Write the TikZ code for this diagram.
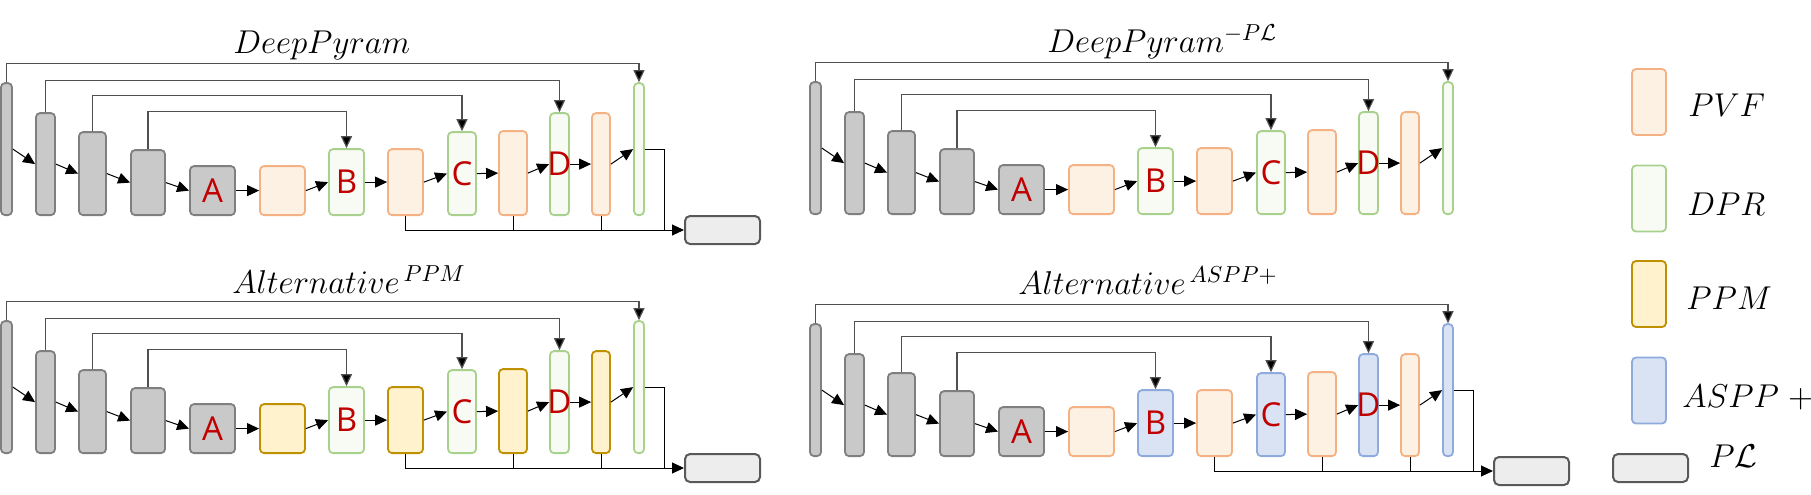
\documentclass[tikz,border=0pt]{standalone}
\usepackage{fix-cm}
\usepackage{fontspec}
\newfontfamily\lettfont{Open Sans}
\usetikzlibrary{arrows.meta}
\definecolor{encfill}{HTML}{C9C9C9}
\definecolor{encline}{HTML}{7F7F7F}
\definecolor{pvffill}{HTML}{FDF1E3}
\definecolor{pvfline}{HTML}{F4B183}
\definecolor{dprfill}{HTML}{F8FBF4}
\definecolor{dprline}{HTML}{A9D18E}
\definecolor{ppmfill}{HTML}{FFF2CC}
\definecolor{ppmline}{HTML}{BF9000}
\definecolor{asppfill}{HTML}{DAE3F3}
\definecolor{asppline}{HTML}{8FAADC}
\definecolor{plfill}{HTML}{EDEDED}
\definecolor{plline}{HTML}{595959}
\definecolor{skipline}{HTML}{505050}
\definecolor{letter}{HTML}{C00000}
% #1 style, #2 name, #3 centre x, #4 width, #5 height
\newcommand{\blk}[5]
{   \node[#1, minimum width=#4*0.5pt, minimum height=#5*0.5pt] (#2) at (#3,216) {};
}
% #1 plain decoder blocks, #2 lettered blocks
\newcommand{\unet}[2]
{   \blk{enc}{e1}{6.5}{11}{132}
    \blk{enc}{e2}{45.5}{19}{102}
    \blk{enc}{e3}{92.5}{27}{83}
    \blk{enc}{e4}{148}{34}{65}
    \blk{enc, label={[lett]center:A}}{A}{212.5}{45}{49}
    \blk{#1}{p1}{282.5}{45}{49}
    \blk{#2, label={[lett]center:B}}{B}{346.5}{35}{66}
    \blk{#1}{p2}{405.5}{35}{66}
    \blk{#2, label={[lett]center:C}}{C}{462}{28}{83}
    \blk{#1}{p3}{513}{28}{84}
    \blk{#2, label={[lett]center:D}}{D}{559.5}{19}{102}
    \blk{#1}{p4}{601}{18}{102}
    \blk{#2}{G}{639}{10}{132}
    \foreach \a/\b in {e1/e2, e2/e3, e3/e4, e4/A, A/p1, p1/B, B/p2, p2/C, C/p3, p3/D, D/p4, p4/G}
        \draw[flow] (\a.east) -- (\b.west);
    \draw[skip] (e1.north) -- ++(0,-19) -| (G.north);
    \draw[skip] (e2.north) -- ++(0,-32) -| (D.north);
    \draw[skip] (e3.north) -- ++(0,-36) -| (C.north);
    \draw[skip] (e4.north) -- ++(0,-38) -| (B.north);
}
\newcommand{\plout}
{   \node[plbox] (PL) at (722.5,230) {};
    \coordinate (j) at (664,230);
    \draw[flow] (p2.south) |- (PL.west);
    \draw[line] (p3.south) -- (p3.south |- PL.west);
    \draw[line] (p4.south) -- (p4.south |- PL.west);
    \draw[line] (G.east) -| (j);
}
\begin{document}
\begin{tikzpicture}[x=0.5pt, y=-0.5pt,
    blkbase/.style={rectangle, rounded corners=2pt, line width=0.9pt, inner sep=0pt, anchor=south},
    enc/.style={blkbase, draw=encline, fill=encfill},
    pvf/.style={blkbase, draw=pvfline, fill=pvffill},
    dpr/.style={blkbase, draw=dprline, fill=dprfill},
    ppm/.style={blkbase, draw=ppmline, fill=ppmfill},
    aspp/.style={blkbase, draw=asppline, fill=asppfill},
    plbox/.style={rectangle, rounded corners=2.5pt, line width=1pt, draw=plline, fill=plfill,
        minimum width=37.5pt, minimum height=14pt},
    lett/.style={text=letter, font=\lettfont\fontsize{16.5}{18}\selectfont, inner sep=0pt},
    flow/.style={line width=0.5pt, -{Triangle[length=6pt,width=5.5pt]}},
    skip/.style={line width=0.6pt, draw=skipline, -{Triangle[length=6pt,width=5.5pt,fill=black]}},
    line/.style={line width=0.5pt},
    title/.style={font=\fontsize{16.5}{19}\selectfont, anchor=base west, inner sep=0pt}]
  \useasboundingbox (0,0) rectangle (1811,494);

  \begin{scope}[name prefix=q1-]
    \unet{pvf}{dpr}
    \plout
  \end{scope}
  \begin{scope}[shift={(809,-1)}, name prefix=q2-]
    \unet{pvf}{dpr}
  \end{scope}
  \begin{scope}[shift={(0,238)}, name prefix=q3-]
    \unet{ppm}{dpr}
    \plout
  \end{scope}
  \begin{scope}[shift={(809,241)}, name prefix=q4-]
    \unet{pvf}{aspp}
    \plout
  \end{scope}

  \node[title] (t1) at (233,53) {$DeepPyram$};
  \node[title] (t2) at (1047,52) {$DeepPyram^{-P\mathcal{L}}$};
  \node[title] (t3) at (232,293) {$Alternative^{\,PPM}$};
  \node[title] (t4) at (1018,294) {$Alternative^{\,ASPP+}$};

  % legend
  \node[pvf, anchor=center, minimum width=17pt, minimum height=33pt] (lpvf) at (1649,102) {};
  \node[dpr, anchor=center, minimum width=17pt, minimum height=33pt] (ldpr) at (1649,198.5) {};
  \node[ppm, anchor=center, minimum width=17pt, minimum height=33pt] (lppm) at (1649,294) {};
  \node[aspp, anchor=center, minimum width=17pt, minimum height=33pt] (laspp) at (1649,390.5) {};
  \node[plbox] (lpl) at (1650.5,468) {};
  \node[title] (tpvf) at (1688,116) {$PVF$};
  \node[title] (tdpr) at (1687,215) {$DPR$};
  \node[title] (tppm) at (1686,309) {$PPM$};
  \node[title] (taspp) at (1682,407) {$ASPP\;+$};
  \node[title] (tpl) at (1709,467) {$P\mathcal{L}$};
\end{tikzpicture}
\end{document}
